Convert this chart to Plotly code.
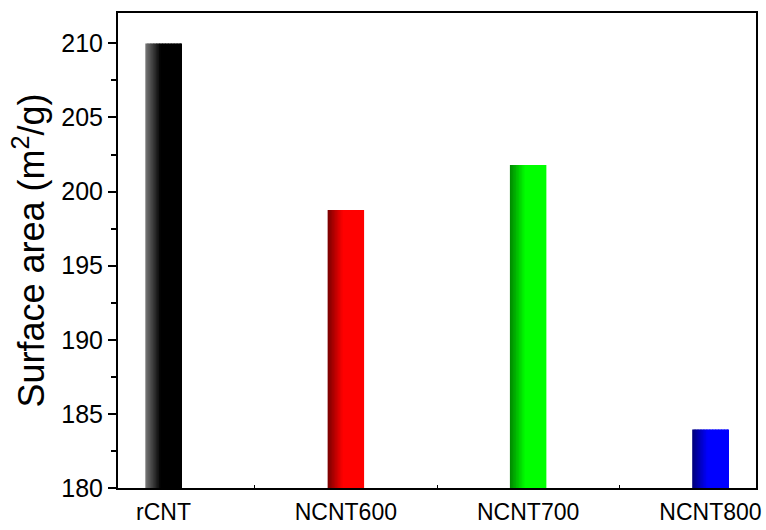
import plotly.graph_objects as go

categories = ["rCNT", "NCNT600", "NCNT700", "NCNT800"]
surface_area = [210.0, 198.75, 201.8, 183.95]
# gradient: left edge colour -> main colour
edge_colors = [(120, 120, 120), (120, 0, 0), (0, 135, 0), (0, 0, 120)]
main_colors = [(0, 0, 0), (255, 0, 0), (0, 255, 0), (0, 0, 255)]
y_ticks = [180, 185, 190, 195, 200, 205, 210]

bar_width = 0.2
n_slices = 24
grad_frac = 0.42

fig = go.Figure()
sw = bar_width / n_slices
for i in range(n_slices):
    f = (i + 0.5) / n_slices
    t = min(f / grad_frac, 1.0)
    cols = []
    for e, m in zip(edge_colors, main_colors):
        c = tuple(int(round(e[k] + (m[k] - e[k]) * t)) for k in range(3))
        cols.append("rgb(%d,%d,%d)" % c)
    fig.add_trace(go.Bar(
        x=categories, y=surface_area,
        width=sw * 1.6 if i < n_slices - 1 else sw,
        offset=-bar_width / 2 + i * sw,
        marker=dict(color=cols, line=dict(width=0)),
        showlegend=False, hoverinfo="x+y",
    ))

font_family = "Liberation Sans, Arial, sans-serif"
fig.update_layout(
    width=766, height=530,
    barmode="overlay",
    plot_bgcolor="white", paper_bgcolor="white",
    margin=dict(l=118, r=5, t=13, b=39),
    font=dict(family=font_family, color="black"),
    xaxis=dict(
        type="category", range=[-0.25, 3.25],
        tickson="boundaries", ticks="inside", ticklen=3, tickcolor="black",
        showline=True, linecolor="black", linewidth=2, mirror=True,
        showgrid=False, tickfont=dict(size=23, family=font_family),
        ticklabelstandoff=2,
    ),
    yaxis=dict(
        range=[180, 212.05], tickvals=y_ticks,
        ticks="outside", ticklen=8, tickwidth=1.5, tickcolor="black",
        minor=dict(dtick=2.5, tick0=180, ticks="outside", ticklen=5, tickcolor="black", tickwidth=1.5),
        showline=True, linecolor="black", linewidth=2, mirror=True,
        showgrid=False, zeroline=False,
        tickfont=dict(size=25, family=font_family),
        title=dict(text="Surface area (m<sup>2</sup>/g)", font=dict(size=36, family=font_family), standoff=6),
    ),
)

fig.write_html("out.html", config={"displayModeBar": False},
               post_script="document.body.style.margin='0';document.body.style.padding='0';")
